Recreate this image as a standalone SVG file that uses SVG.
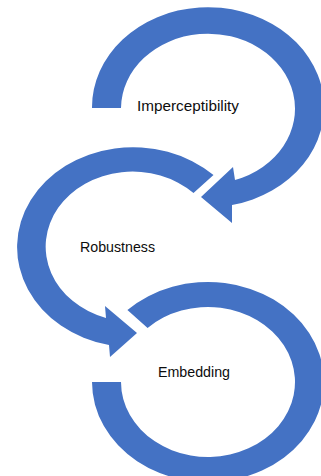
<svg xmlns="http://www.w3.org/2000/svg" width="321" height="476" viewBox="0 0 321 476">
<style>
.arrow{fill:#4472C4;stroke:none}
.lbl{font-family:"Liberation Sans",Arial,sans-serif;font-size:15px;fill:#0d0d0d}
</style>
<rect width="321" height="476" fill="#ffffff"/>
<g id="node-imperceptibility">
<path class="arrow" d="M92 108 A116 100 0 1 1 232 205 L232 223 L201 197 L233 167 L235 180 A87 75 0 1 0 121 108 Z"/>
<text class="lbl" x="137" y="111" textLength="102" lengthAdjust="spacingAndGlyphs">Imperceptibility</text>
</g>
<g id="node-robustness">
<path class="arrow" d="M213.5 175.1 A116 100 0 1 0 109 345 L110 357 L137 333 L105 306 L106 318 A87 75 0 1 1 193.5 193 Z"/>
<text class="lbl" x="80" y="252" textLength="75" lengthAdjust="spacingAndGlyphs">Robustness</text>
</g>
<g id="node-embedding">
<path class="arrow" d="M127.4 310.1 A116 100 0 1 1 92 382 L121 382 A87 75 0 1 0 147.6 328 Z"/>
<text class="lbl" x="158" y="377" textLength="72" lengthAdjust="spacingAndGlyphs">Embedding</text>
</g>
</svg>
